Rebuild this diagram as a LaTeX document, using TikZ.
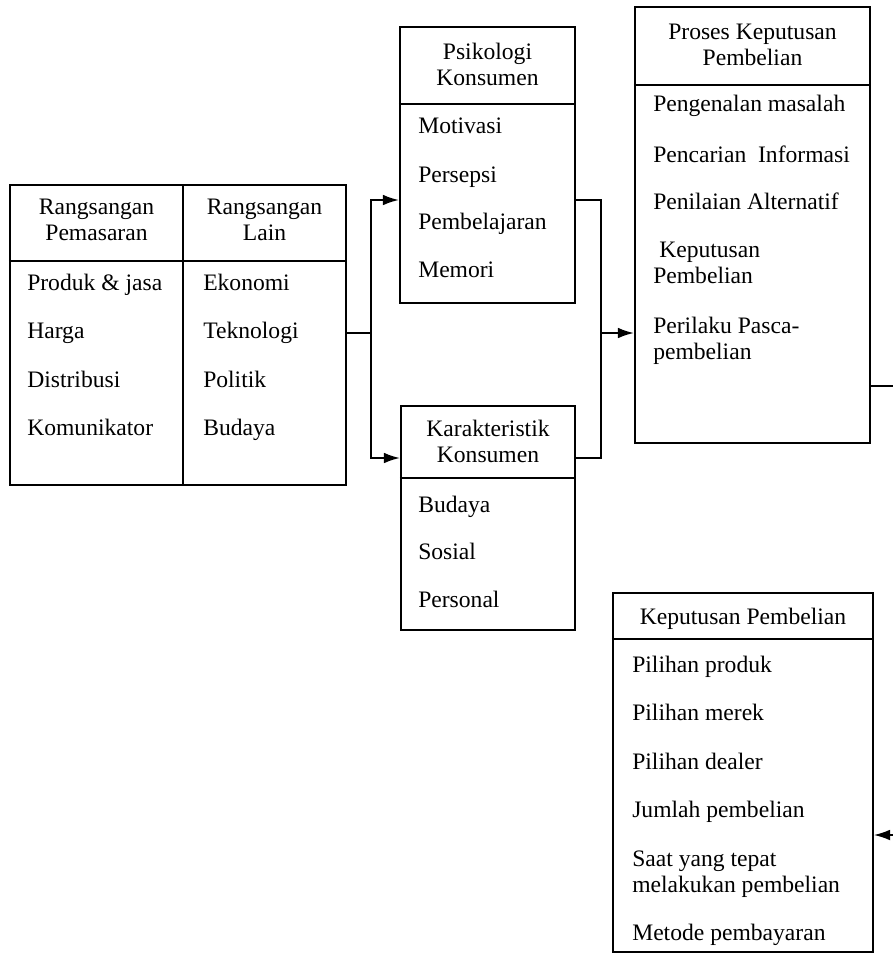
\documentclass[tikz,border=0pt]{standalone}
\usepackage{fontspec}
\setmainfont{Liberation Serif}
\usetikzlibrary{arrows.meta}
\begin{document}
\begin{tikzpicture}[x=0.75pt,y=-0.75pt,
  box/.style={draw, line width=1.6pt, inner sep=0pt},
  divline/.style={line width=1.6pt},
  lbl/.style={inner sep=0pt, font=\fontsize{17.7}{19.5}\selectfont},
  item/.style={lbl, anchor=base west, align=left},
  head/.style={lbl, anchor=base, align=center},
  conn/.style={line width=1.4pt},
  thinconn/.style={line width=0.9pt},
  arr/.style={conn, -{Latex[length=12pt,width=8pt]}},
  thinarr/.style={thinconn, -{Latex[length=12pt,width=8pt]}}]
\useasboundingbox (0,0) rectangle (893,965);

% boxes
\node[box, minimum width=129.75pt, minimum height=225pt] (pem) at (96.5,335) {};
\node[box, minimum width=122.25pt, minimum height=225pt] (lain) at (264.5,335) {};
\node[box, minimum width=131.25pt, minimum height=207pt] (psi) at (487.5,165) {};
\node[box, minimum width=130.5pt, minimum height=168pt] (kar) at (488,518) {};
\node[box, minimum width=176.25pt, minimum height=327pt] (pro) at (752.5,225) {};
\node[box, minimum width=195pt, minimum height=269.25pt] (kep) at (743,772.5) {};

% header dividers
\draw[divline] (pem.west |- 0,261) -- (lain.east |- 0,261);
\draw[divline] (psi.west |- 0,104) -- (psi.east |- 0,104);
\draw[divline] (kar.west |- 0,478) -- (kar.east |- 0,478);
\draw[divline] (pro.west |- 0,85) -- (pro.east |- 0,85);
\draw[divline] (kep.west |- 0,639) -- (kep.east |- 0,639);

% headers (base = last line)
\node[head] (hpem) at (96.5,240) {Rangsangan\\Pemasaran};
\node[head] (hlain) at (264.5,240) {Rangsangan\\Lain};
\node[head] (hpsi) at (487.5,85) {Psikologi\\Konsumen};
\node[head] (hkar) at (488,462) {Karakteristik\\Konsumen};
\node[head] (hpro) at (752.5,65) {Proses Keputusan\\Pembelian};
\node[head] (hkep) at (743,624) {Keputusan Pembelian};

% items: Rangsangan Pemasaran
\node[item] (p1) at (27,290) {Produk \& jasa};
\node[item] (p2) at (27,338) {Harga};
\node[item] (p3) at (27,387) {Distribusi};
\node[item] (p4) at (27,435) {Komunikator};
% Rangsangan Lain
\node[item] (l1) at (203,290) {Ekonomi};
\node[item] (l2) at (203,338) {Teknologi};
\node[item] (l3) at (203,387) {Politik};
\node[item] (l4) at (203,435) {Budaya};
% Psikologi Konsumen
\node[item] (s1) at (418,133) {Motivasi};
\node[item] (s2) at (418,182) {Persepsi};
\node[item] (s3) at (418,229) {Pembelajaran};
\node[item] (s4) at (418,277) {Memori};
% Karakteristik Konsumen
\node[item] (k1) at (418,512) {Budaya};
\node[item] (k2) at (418,559) {Sosial};
\node[item] (k3) at (418,607) {Personal};
% Proses Keputusan Pembelian
\node[item] (r1) at (653,111) {Pengenalan masalah};
\node[item] (r2) at (653,162) {Pencarian\ \ Informasi};
\node[item] (r3) at (653,209) {Penilaian Alternatif};
\node[item] (r4) at (653,283) {\hspace{4.5pt}Keputusan\\Pembelian};
\node[item] (r5) at (653,359) {Perilaku Pasca-\\pembelian};
% Keputusan Pembelian
\node[item] (d1) at (632,672) {Pilihan produk};
\node[item] (d2) at (632,720) {Pilihan merek};
\node[item] (d3) at (632,769) {Pilihan dealer};
\node[item] (d4) at (632,817) {Jumlah pembelian};
\node[item] (d5) at (632,892) {Saat yang tepat\\melakukan pembelian};
\node[item] (d6) at (632,940) {Metode pembayaran};

% connectors
\coordinate (j1) at (371,333);
\coordinate (t1) at (371,200);
\coordinate (b1) at (371,458);
\draw[thinconn] (j1 -| lain.east) -- (j1);
\draw[arr] (j1) -- (t1) -- (t1 -| psi.west);
\draw[arr] (j1) -- (b1) -- (b1 -| kar.west);

\coordinate (j2) at (601,333);
\coordinate (t2) at (601,200);
\coordinate (b2) at (601,458);
\draw[conn] (t2 -| psi.east) -- (t2) -- (b2) -- (b2 -| kar.east);
\draw[arr] (j2) -- (j2 -| pro.west);

\coordinate (out1) at (893,386);
\draw[thinconn] (out1 -| pro.east) -- (out1);
\coordinate (in1) at (893,835);
\draw[thinarr] (in1) -- (in1 -| kep.east);
\end{tikzpicture}
\end{document}
